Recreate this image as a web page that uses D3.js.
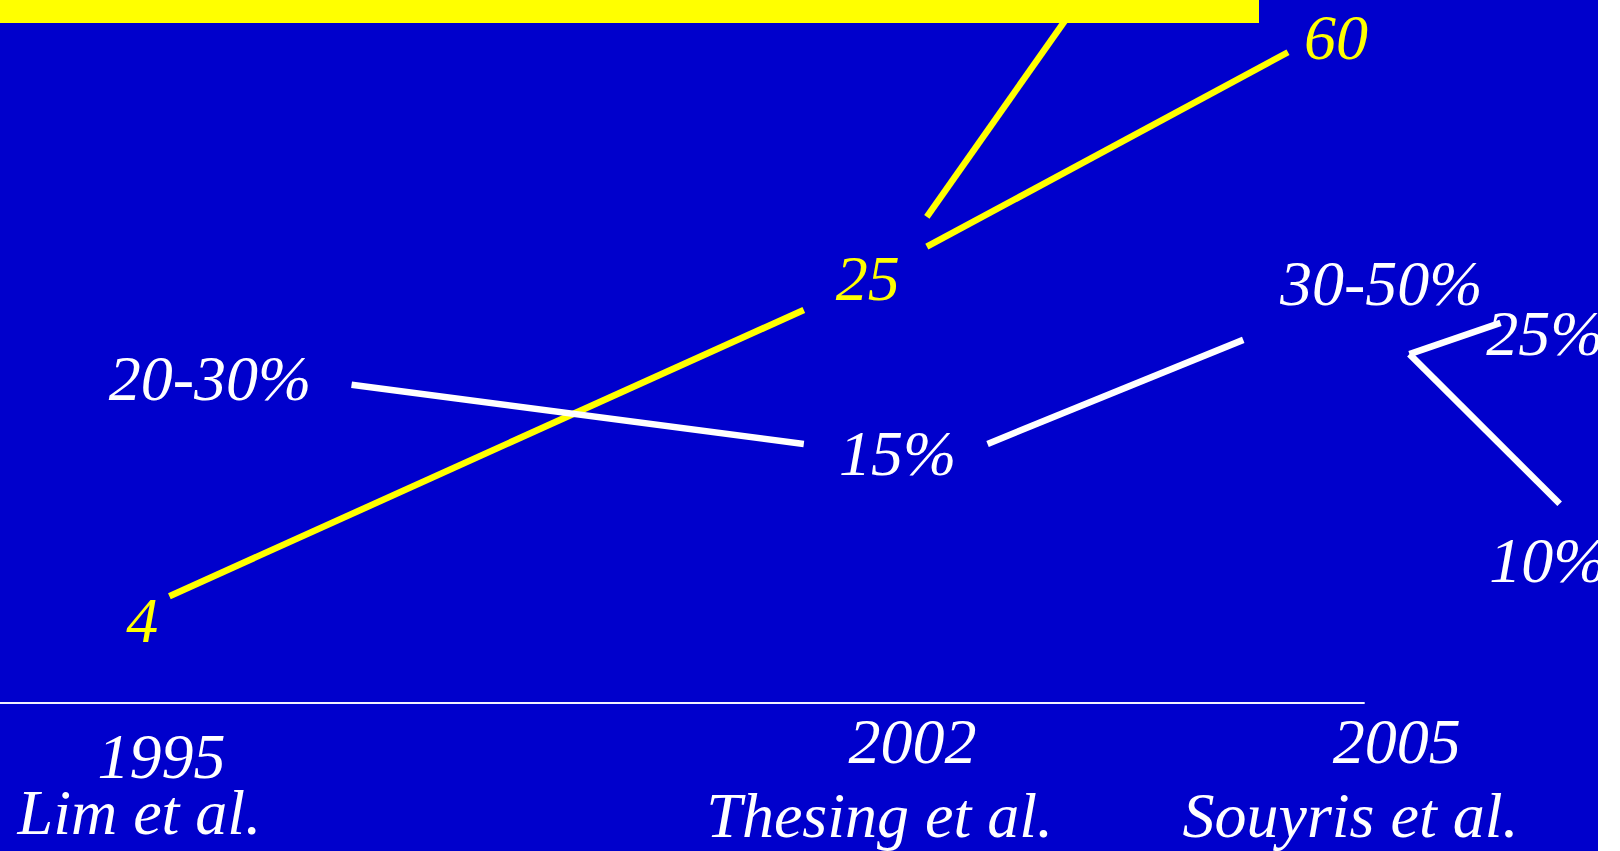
<!DOCTYPE html>
<html>
<head>
<meta charset="utf-8">
<script src="https://cdn.jsdelivr.net/npm/d3@7"></script>
<style>
  html, body { margin: 0; padding: 0; background: #ffffff; }
  svg { display: block; }
  text { font-family: 'Liberation Serif', 'Times New Roman', serif; font-style: italic; }
</style>
</head>
<body>
<svg width="1620" height="851"></svg>
<script>
// studies along the bottom
const years = ['1995', '2002', '2005'];
const studies = ['Lim et al.', 'Thesing et al.', 'Souyris et al.'];
const yearX = [6.1, 53.1, 83.4];
const yearY = [-11.0, -8.8, -8.8];
const studyX = [1.1, 44.2, 74.0];
const studyY = [-19.3, -19.7, -19.7];

// yellow series (numbers)
const yellowLabels = ['4', '25', '60'];
const yellowX = [7.9, 52.3, 81.6];
const yellowY = [9.0, 59.3, 94.7];
const yellowSegments = [
  [10.6, 15.7, 50.3, 57.8],
  [58.0, 67.1, 80.6, 95.7],
  [58.0, 71.5, 66.9, 101.2]
];

// white series (percentages)
const whiteLabels = ['20-30%', '15%', '30-50%', '25%', '10%'];
const whiteX = [6.8, 52.5, 80.1, 93.0, 93.2];
const whiteY = [44.6, 33.5, 58.5, 51.2, 17.8];
const whiteSegments = [
  [22.0, 46.8, 50.3, 38.1],
  [61.8, 38.1, 77.8, 53.4],
  [88.2, 51.3, 93.9, 55.9],
  [88.2, 51.3, 97.6, 29.3]
];

const axisEnd = 85.4;

const svg = d3.select('svg'),
  width = +svg.attr('width'),
  height = +svg.attr('height');

const panelW = 1598, baseY = 703, topY = 23;

const x = d3.scaleLinear().domain([0, 100]).range([0, panelW]);
const y = d3.scaleLinear().domain([0, 100]).range([baseY, topY]);

svg.append('defs').append('clipPath')
    .attr('id', 'panel')
  .append('rect')
    .attr('width', panelW)
    .attr('height', height);

const g = svg.append('g').attr('clip-path', 'url(#panel)');

g.append('rect')
    .attr('width', panelW)
    .attr('height', height)
    .attr('fill', '#0000cc');

function drawSeries(segments, labels, lx, ly, colour) {
  g.append('g')
    .selectAll('line')
    .data(segments)
    .enter().append('line')
      .attr('x1', d => x(d[0]))
      .attr('y1', d => y(d[1]))
      .attr('x2', d => x(d[2]))
      .attr('y2', d => y(d[3]))
      .attr('stroke', colour)
      .attr('stroke-width', 6.5);

  g.append('g')
    .selectAll('text')
    .data(labels)
    .enter().append('text')
      .attr('x', (d, i) => x(lx[i]))
      .attr('y', (d, i) => y(ly[i]))
      .attr('fill', colour)
      .attr('font-size', 64)
      .text(d => d);
}

drawSeries(yellowSegments, yellowLabels, yellowX, yellowY, '#ffff00');
drawSeries(whiteSegments, whiteLabels, whiteX, whiteY, '#ffffff');

// top bar
g.append('rect')
    .attr('x', 0)
    .attr('y', 0)
    .attr('width', 1259)
    .attr('height', topY)
    .attr('fill', '#ffff00');

// base line
g.append('line')
    .attr('x1', x(0))
    .attr('x2', x(axisEnd))
    .attr('y1', y(0))
    .attr('y2', y(0))
    .attr('stroke', '#f0f0ff')
    .attr('stroke-width', 2);

g.append('g')
  .selectAll('text')
  .data(years)
  .enter().append('text')
    .attr('x', (d, i) => x(yearX[i]))
    .attr('y', (d, i) => y(yearY[i]))
    .attr('fill', '#ffffff')
    .attr('font-size', 64)
    .text(d => d);

g.append('g')
  .selectAll('text')
  .data(studies)
  .enter().append('text')
    .attr('x', (d, i) => x(studyX[i]))
    .attr('y', (d, i) => y(studyY[i]))
    .attr('fill', '#ffffff')
    .attr('font-size', 64)
    .text(d => d);
</script>
</body>
</html>
